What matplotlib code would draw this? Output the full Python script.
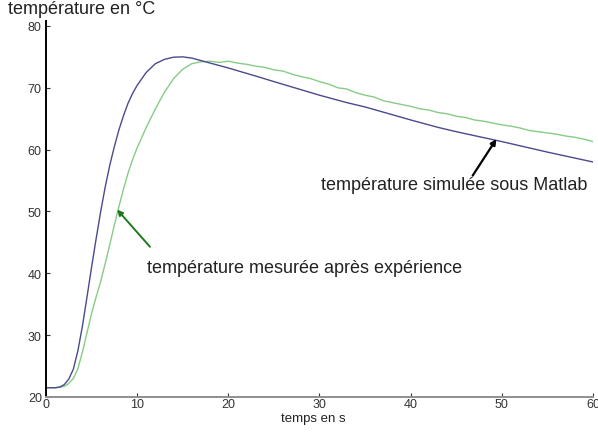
import matplotlib
matplotlib.use("Agg")
import matplotlib.pyplot as plt

plt.rcParams['font.family'] = ['Liberation Sans', 'DejaVu Sans']

# simulated temperature (Matlab)
t_sim = [0, 1, 1.5, 2, 2.5, 3, 3.5, 4, 4.5, 5, 5.5, 6, 6.5, 7, 7.5, 8, 8.5, 9, 9.5, 10,
         11, 12, 13, 14, 15, 16, 17, 18, 20, 23, 25, 30, 33, 35, 40, 43, 45, 50, 55, 60]
T_sim = [21.5, 21.5, 21.6, 22.0, 22.9, 24.5, 27.5, 31.5, 36.2, 41.0, 45.6, 50.0, 54.0,
         57.5, 60.5, 63.2, 65.5, 67.5, 69.1, 70.4, 72.5, 73.9, 74.6, 74.95, 75.0, 74.8,
         74.4, 74.0, 73.2, 71.9, 71.0, 68.8, 67.6, 66.9, 64.8, 63.6, 62.9, 61.3, 59.6, 58.0]

# measured temperature
t_mes = [0, 1, 2, 2.5, 3, 3.5, 4, 4.5, 5, 5.5, 6, 6.5, 7, 7.5, 8, 8.5, 9, 9.5, 10, 11,
         12, 13, 14, 15, 16, 17, 18, 19, 20, 21, 22, 23, 24, 25, 26, 27, 28, 29, 30, 31,
         32, 33, 34, 35, 36, 37, 38, 39, 40, 41, 42, 43, 44, 45, 46, 47, 48, 49, 50, 51,
         52, 53, 54, 55, 56, 57, 58, 59, 60]
T_mes = [21.5, 21.5, 21.7, 22.2, 23.0, 24.6, 27.3, 30.4, 33.5, 36.2, 38.7, 41.6, 44.7,
         47.8, 50.8, 53.6, 56.2, 58.4, 60.3, 63.6, 66.6, 69.3, 71.5, 73.0, 73.9, 74.2,
         74.3, 74.1, 74.3, 74.0, 73.8, 73.5, 73.3, 72.9, 72.7, 72.2, 71.8, 71.5, 71.0,
         70.6, 70.0, 69.8, 69.2, 68.8, 68.5, 67.9, 67.6, 67.3, 67.0, 66.6, 66.4, 66.0,
         65.8, 65.4, 65.2, 64.8, 64.6, 64.3, 64.0, 63.8, 63.5, 63.1, 62.9, 62.7, 62.5,
         62.2, 62.0, 61.7, 61.3]

xticks = [0, 10, 20, 30, 40, 50, 60]
yticks = [20, 30, 40, 50, 60, 70, 80]

fig = plt.figure(figsize=(5.98, 4.35), dpi=100)
ax = fig.add_axes([46/598, 1-398/435, 547/598, 376/435])

ax.plot(t_mes, T_mes, color='#86cc86', lw=1.0)
ax.plot(t_sim, T_sim, color='#4a4a8e', lw=1.0)

ax.set_xlim(0, 60)
ax.set_ylim(20, 80.8)
ax.set_xticks(xticks)
ax.set_yticks(yticks)
ax.tick_params(direction='in', length=3, labelsize=9, colors='#333333', pad=3)
ax.tick_params(axis='x', pad=1)

for s in ['top', 'right']:
    ax.spines[s].set_visible(False)
ax.spines['left'].set_color('black')
ax.spines['left'].set_linewidth(1.4)
ax.spines['bottom'].set_color('#8f8f8f')
ax.spines['bottom'].set_linewidth(1.4)

fig.text(8/598, 1-10/435, 'température en °C', fontsize=13, color='#222222',
         ha='left', va='center')
fig.text(313/598, 1-419/435, 'temps en s', fontsize=9.5, color='#222222',
         ha='center', va='center')

# annotation texts
ax.text(44.75, 54.3, 'température simulée sous Matlab', fontsize=13, color='#222222',
        ha='center', va='center')
ax.text(28.4, 41.0, 'température mesurée après expérience', fontsize=13, color='#222222',
        ha='center', va='center')

# arrows
ax.annotate('', xy=(49.4, 61.7), xytext=(46.8, 55.8),
            arrowprops=dict(arrowstyle='-|>', color='black', lw=1.6,
                            mutation_scale=8, shrinkA=0, shrinkB=0))
ax.annotate('', xy=(7.8, 50.3), xytext=(11.4, 44.3),
            arrowprops=dict(arrowstyle='-|>', color='#1e7a1e', lw=1.4,
                            mutation_scale=8, shrinkA=0, shrinkB=0))

fig.savefig('out.png', dpi=100)
